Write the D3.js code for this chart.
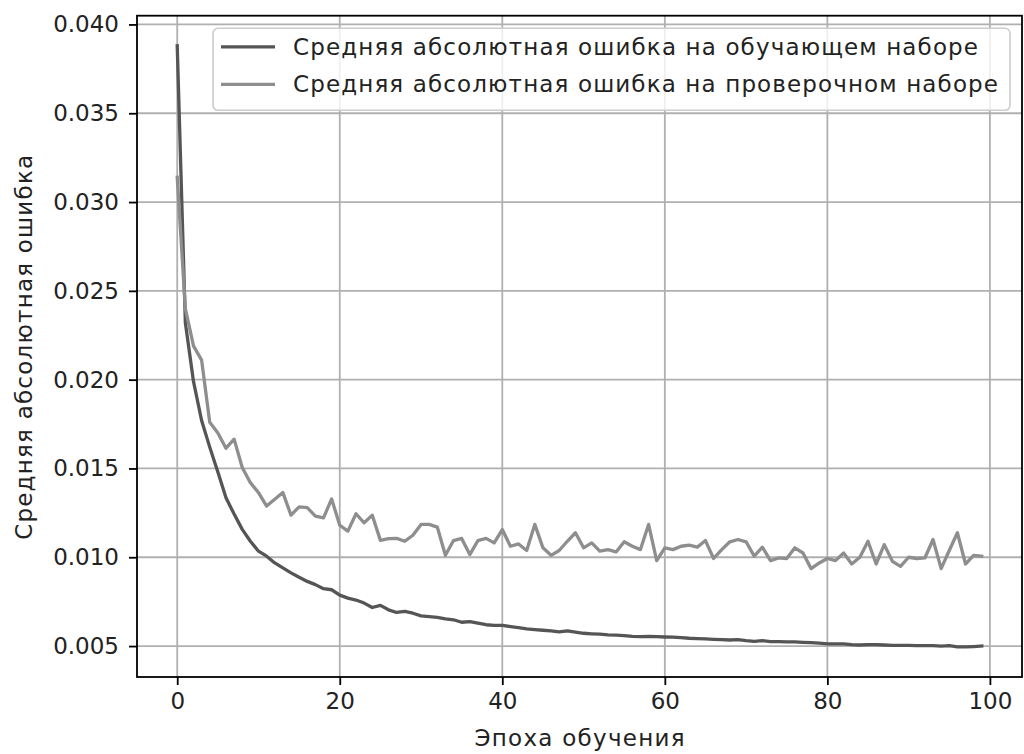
<!DOCTYPE html>
<html lang="ru">
	<head>
		<meta charset="utf-8">
		<title>Средняя абсолютная ошибка</title>
		<script type="text/javascript" src="https://cdn.jsdelivr.net/npm/d3@7/dist/d3.min.js"></script>
		<style type="text/css">
			body { margin: 0; background: #fff; }
			svg text { font-family: "DejaVu Sans", sans-serif; fill: #222; }
		</style>
	</head>
	<body>
		<script type="text/javascript">

			//Data
			var trainMae = [
				0.0388, 0.0232, 0.0199, 0.0177, 0.0162, 0.0148, 0.01335, 0.01243, 0.01157, 0.0109,
				0.01034, 0.01006, 0.00968, 0.0094, 0.00912, 0.00887, 0.00864, 0.00846, 0.00823, 0.00817,
				0.00787, 0.0077, 0.00759, 0.00742, 0.00717, 0.00729, 0.00704, 0.00689, 0.00695, 0.00685,
				0.0067, 0.00666, 0.00661, 0.00653, 0.00648, 0.00634, 0.00638, 0.00629, 0.0062, 0.00616,
				0.00616, 0.0061, 0.00604, 0.00597, 0.00593, 0.00589, 0.00585, 0.0058, 0.00585, 0.00578,
				0.00572, 0.00569, 0.00567, 0.00563, 0.00561, 0.00559, 0.00555, 0.00553, 0.00555, 0.00553,
				0.00551, 0.0055, 0.00548, 0.00544, 0.00542, 0.0054, 0.00538, 0.00536, 0.00534, 0.00536,
				0.0053, 0.00526, 0.0053, 0.00525, 0.00525, 0.00523, 0.00523, 0.00521, 0.00519, 0.00516,
				0.00512, 0.00512, 0.00512, 0.00508, 0.00506, 0.00508, 0.00508, 0.00506, 0.00504, 0.00504,
				0.00504, 0.00502, 0.00502, 0.00502, 0.005, 0.00502, 0.00495, 0.00495, 0.00497, 0.005
			];

			var valMae = [
				0.0314, 0.0240, 0.0219, 0.0211, 0.0176, 0.0170, 0.01614, 0.01665, 0.01505, 0.0142,
				0.01364, 0.01288, 0.01326, 0.01364, 0.01237, 0.01284, 0.01279, 0.01232, 0.01222, 0.01328,
				0.0118, 0.01147, 0.01245, 0.01194, 0.01237, 0.01095, 0.01105, 0.01106, 0.0109, 0.01124,
				0.01185, 0.01185, 0.0117, 0.01011, 0.01094, 0.01106, 0.01015, 0.01094, 0.01106, 0.01081,
				0.01156, 0.01062, 0.01075, 0.01038, 0.01185, 0.01053, 0.01011, 0.01038, 0.0109, 0.01138,
				0.01053, 0.01081, 0.01034, 0.01043, 0.0103, 0.01087, 0.01062, 0.01043, 0.01185, 0.00981,
				0.01053, 0.01043, 0.01062, 0.01068, 0.01057, 0.01094, 0.00993, 0.01043, 0.01087, 0.011,
				0.01087, 0.01006, 0.01057, 0.00981, 0.00996, 0.00993, 0.01053, 0.01024, 0.00936, 0.00968,
				0.00993, 0.00981, 0.01024, 0.00962, 0.010, 0.0109, 0.00962, 0.01071, 0.00977, 0.00949,
				0.010, 0.00993, 0.00996, 0.011, 0.00936, 0.01038, 0.01138, 0.00962, 0.01011, 0.01006
			];

			var xTicks = [0, 20, 40, 60, 80, 100];
			var yTicks = [0.005, 0.010, 0.015, 0.020, 0.025, 0.030, 0.035, 0.040];

			var seriesNames = [
				"Средняя абсолютная ошибка на обучающем наборе",
				"Средняя абсолютная ошибка на проверочном наборе"
			];
			var xLabel = "Эпоха обучения";
			var yLabel = "Средняя абсолютная ошибка";

			//Width and height
			var W = 1024, H = 754;
			var margin = {top: 15.7, right: 2, bottom: 77, left: 137};
			var w = W - margin.left - margin.right,
				h = H - margin.top - margin.bottom;

			var epochs = d3.range(trainMae.length);
			var allVals = trainMae.concat(valMae);
			var yMin = d3.min(allVals), yMax = d3.max(allVals);
			var yPad = (yMax - yMin) * 0.05;
			var xPad = (epochs.length - 1) * 0.05;

			var xScale = d3.scaleLinear()
				.domain([-xPad, epochs.length - 1 + xPad])
				.range([0, w]);

			var yScale = d3.scaleLinear()
				.domain([yMin - yPad, yMax + yPad])
				.range([h, 0]);

			var svg = d3.select("body")
				.append("svg")
				.attr("width", W)
				.attr("height", H)
				.append("g")
				.attr("transform", "translate(" + margin.left + "," + margin.top + ")");

			//Grid
			svg.append("g")
				.selectAll("line")
				.data(xTicks)
				.enter()
				.append("line")
				.attr("x1", function(d) { return xScale(d); })
				.attr("x2", function(d) { return xScale(d); })
				.attr("y1", 0)
				.attr("y2", h)
				.attr("stroke", "#b0b0b0")
				.attr("stroke-width", 1.8);

			svg.append("g")
				.selectAll("line")
				.data(yTicks)
				.enter()
				.append("line")
				.attr("x1", 0)
				.attr("x2", w)
				.attr("y1", function(d) { return yScale(d); })
				.attr("y2", function(d) { return yScale(d); })
				.attr("stroke", "#b0b0b0")
				.attr("stroke-width", 1.8);

			//Lines
			var colors = ["#555555", "#8e8e8e"];
			var line = d3.line()
				.x(function(d, i) { return xScale(i); })
				.y(function(d) { return yScale(d); });

			[trainMae, valMae].forEach(function(series, k) {
				svg.append("path")
					.datum(series)
					.attr("d", line)
					.attr("fill", "none")
					.attr("stroke", colors[k])
					.attr("stroke-width", 3.3)
					.attr("stroke-linejoin", "round")
					.attr("stroke-linecap", "square");
			});

			//Axes
			var xAxis = d3.axisBottom(xScale)
				.tickValues(xTicks)
				.tickSize(8)
				.tickPadding(8)
				.tickFormat(d3.format("d"));

			var yAxis = d3.axisLeft(yScale)
				.tickValues(yTicks)
				.tickSize(8)
				.tickPadding(10)
				.tickFormat(d3.format(".3f"));

			var gx = svg.append("g")
				.attr("transform", "translate(0," + h + ")")
				.call(xAxis);
			var gy = svg.append("g").call(yAxis);

			[gx, gy].forEach(function(g) {
				g.select(".domain").remove();
				g.selectAll("line").attr("stroke", "#000").attr("stroke-width", 1.8);
				g.selectAll("text")
					.attr("font-size", "23px")
					.attr("font-family", "DejaVu Sans")
					.attr("fill", "#222");
			});

			//Frame
			svg.append("rect")
				.attr("x", 0)
				.attr("y", 0)
				.attr("width", w)
				.attr("height", h)
				.attr("fill", "none")
				.attr("stroke", "#000")
				.attr("stroke-width", 1.8);

			//Axis labels (cyrillic runs a bit wider in the original, so stretch spacing)
			svg.append("text")
				.attr("x", w / 2)
				.attr("y", h + 69)
				.attr("text-anchor", "middle")
				.attr("font-size", "23px")
				.attr("textLength", 210)
				.attr("lengthAdjust", "spacing")
				.text(xLabel);

			svg.append("text")
				.attr("transform", "translate(" + (32 - margin.left) + "," + (h / 2 + 1) + ") rotate(-90)")
				.attr("text-anchor", "middle")
				.attr("font-size", "23px")
				.attr("textLength", 385)
				.attr("lengthAdjust", "spacing")
				.text(yLabel);

			//Legend
			var legend = svg.append("g")
				.attr("transform", "translate(" + (213 - margin.left) + "," + (28.3 - margin.top) + ")");

			legend.append("rect")
				.attr("width", 797)
				.attr("height", 82)
				.attr("rx", 5)
				.attr("fill", "#fff")
				.attr("fill-opacity", 0.8)
				.attr("stroke", "#cccccc")
				.attr("stroke-width", 1.6);

			var legendWidths = [685, 705];
			seriesNames.forEach(function(name, k) {
				var yy = 18.5 + k * 37.6;
				legend.append("line")
					.attr("x1", 8)
					.attr("x2", 62)
					.attr("y1", yy)
					.attr("y2", yy)
					.attr("stroke", colors[k])
					.attr("stroke-width", 3.3);
				legend.append("text")
					.attr("x", 80)
					.attr("y", yy + 8)
					.attr("font-size", "23px")
					.attr("textLength", legendWidths[k])
					.attr("lengthAdjust", "spacing")
					.text(name);
			});

		</script>
	</body>
</html>
